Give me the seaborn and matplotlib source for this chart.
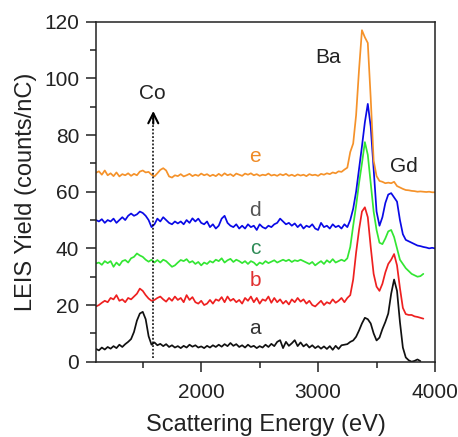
import numpy as np
import pandas as pd
import matplotlib
matplotlib.use("Agg")
import matplotlib.pyplot as plt
import seaborn as sns
from matplotlib.ticker import MultipleLocator

# ---------------- data (25 eV sampling from 1100 eV) ----------------
E_START = 1100
E_STEP = 25

series_a = [
    4.5, 4.0, 5.0, 4.3, 5.2, 4.6, 5.5, 4.8,
    6.0, 5.2, 6.2, 7.0, 8.0, 10.5, 14.5, 17.0,
    17.6, 15.0, 9.0, 6.0, 6.8, 5.8, 6.3, 5.5,
    6.2, 5.2, 5.8, 5.0, 5.5, 4.8, 5.6, 5.0,
    6.0, 5.3, 5.8, 5.0, 5.4, 4.8, 5.6, 5.0,
    5.8, 5.2, 6.0, 5.3, 6.2, 5.5, 6.6, 5.6,
    6.2, 5.2, 5.8, 5.0, 6.0, 5.2, 5.6, 4.8,
    5.5, 5.0, 6.0, 5.2, 6.3, 5.5, 7.0, 7.6,
    4.8, 7.0, 5.6, 6.5, 7.6, 5.5, 6.8, 5.4,
    6.2, 5.0, 5.8, 4.8, 5.5, 4.6, 5.4, 4.5,
    5.5, 4.2, 5.6, 4.5, 5.8, 6.0, 6.2, 7.0,
    7.5, 8.8, 11.0, 13.5, 15.5, 15.0, 13.5, 10.0,
    7.5, 8.5, 11.5, 14.0, 17.0, 24.0, 29.0, 25.0,
    14.0, 5.0, 1.5, 0.5, 0.0, 0.3, 0.8, 0.2,
]

series_b = [
    19.5, 20.0, 20.8, 21.5, 21.0, 22.5, 22.0, 23.5,
    21.5, 22.0, 21.0, 22.5, 22.0, 23.0, 24.0, 25.8,
    25.0, 23.5, 22.3, 21.5, 21.8, 22.5, 23.0, 22.0,
    21.2, 22.5, 21.5, 23.0, 21.8, 22.5, 21.0, 23.5,
    21.8, 22.8, 21.0, 20.5, 21.5, 20.0, 20.5, 21.8,
    20.5, 22.0, 21.5, 22.8, 21.0, 23.0, 21.5, 22.2,
    21.0, 21.8, 20.5, 22.5, 21.5, 23.0, 21.0, 22.5,
    20.5, 22.0, 21.5, 23.0, 20.8, 22.5, 21.0, 22.0,
    20.5, 21.5, 20.2, 22.0, 21.0, 22.5, 21.2, 22.0,
    20.5, 21.5, 20.0, 19.5, 20.5, 21.5, 20.0, 21.0,
    20.5, 22.0, 20.8, 21.5, 22.5, 21.0, 22.5, 23.5,
    29.0, 38.5, 46.5, 53.0, 54.5, 51.0, 40.5, 31.0,
    26.5, 25.0, 27.5, 31.5, 34.5, 36.0, 38.0, 34.0,
    26.0, 19.0, 16.8, 16.5, 16.5, 16.0, 15.8, 15.5,
    15.2,
]

series_c = [
    34.7, 35.0, 34.2, 35.5, 34.8, 35.5, 33.5, 35.0,
    34.0, 35.5, 35.9, 35.0, 36.5, 37.0, 38.2, 37.5,
    37.0, 36.0, 35.3, 36.0, 35.0, 35.9, 35.0, 36.0,
    35.5, 34.5, 33.5, 34.0, 35.0, 35.9, 35.5, 36.2,
    35.0, 35.5, 34.5, 35.2, 34.0, 35.0, 34.5, 35.5,
    35.0, 36.0, 35.5, 36.5, 35.0, 35.8, 36.3, 35.2,
    36.0, 35.5, 34.8, 35.5, 34.5, 35.5, 35.0, 34.0,
    35.0, 34.5, 35.5, 34.8, 35.3, 35.8, 35.0, 35.5,
    36.0, 35.5, 36.0, 35.2, 35.8, 35.5, 36.0, 35.5,
    35.0, 34.5, 35.2, 34.0, 34.8, 35.5, 34.5, 35.8,
    35.0, 36.2, 35.0, 35.5, 36.0, 35.5, 36.5, 40.5,
    48.0, 55.0, 63.0, 70.0, 77.5, 73.0, 63.0, 53.0,
    46.5, 42.0, 41.5, 43.5, 46.0, 46.5, 44.0, 40.0,
    36.0, 34.5, 33.0, 32.0, 31.0, 30.5, 30.0, 30.2,
    31.0,
]

series_d = [
    50.0, 49.5, 50.3, 49.0, 50.0, 49.5, 50.5, 49.0,
    50.0, 51.0, 50.0, 51.5, 52.3, 51.5, 52.0, 53.0,
    52.5, 51.5, 50.0, 47.5, 48.5, 50.5, 49.5, 51.0,
    50.0, 49.0, 48.5, 49.5, 48.8, 49.5, 48.5, 50.0,
    49.0, 50.6, 49.5, 50.5, 49.0, 48.5, 49.5, 47.5,
    48.5, 47.0, 48.0, 50.5, 51.5, 49.0, 48.0, 47.5,
    48.5, 47.0, 48.0, 47.0, 48.5, 47.5, 48.0, 46.5,
    48.5, 47.5, 47.0, 48.0, 47.5, 48.5, 49.0, 50.5,
    49.5, 48.5, 49.0, 48.0, 48.8, 47.5, 48.5, 47.0,
    48.0, 47.5, 48.5, 47.0, 46.5, 49.0, 47.5, 48.0,
    47.0, 48.5, 47.5, 48.0, 47.0, 48.5, 47.5, 50.0,
    54.0, 60.0, 68.0, 76.0, 84.5, 91.0, 83.0, 68.0,
    53.0, 48.0, 51.0, 56.0, 59.0, 59.5, 58.0, 56.5,
    50.0, 45.0, 43.0, 42.5, 42.0, 41.5, 41.0, 40.8,
    40.5, 40.3, 40.0, 40.2, 40.0,
]

series_e = [
    66.7, 67.2, 66.0, 67.5, 65.8, 66.5, 65.5, 66.8,
    65.4, 66.2, 65.8, 66.5, 65.6, 66.3, 65.8, 67.1,
    67.5, 66.8, 67.0, 66.0, 65.4, 66.5, 67.7, 68.3,
    67.5, 65.4, 65.0, 65.8, 65.5, 66.2, 65.4, 65.8,
    66.3, 65.5, 66.0, 65.6, 66.4, 65.8, 66.2, 65.5,
    66.0, 65.5, 66.3, 65.6, 66.5, 65.8, 66.2, 65.5,
    66.4, 66.0, 65.6, 66.4, 66.0, 66.5, 65.8, 66.2,
    65.6, 66.0, 65.8, 66.4, 65.7, 66.0, 65.6, 66.2,
    65.8, 66.3, 65.6, 66.0, 65.5, 66.1, 65.7, 66.0,
    65.5, 66.2, 65.8, 66.0, 65.6, 66.3, 66.0, 66.5,
    66.2, 66.8, 66.5, 67.2, 67.0, 67.8, 68.5, 74.0,
    77.0, 87.0, 103.0, 117.0, 114.5, 112.5, 93.0, 71.0,
    65.5, 63.8, 63.5, 63.0, 63.2, 63.0, 63.5, 62.0,
    61.5, 61.0, 60.6, 60.5, 60.3, 60.2, 60.0, 60.1,
    60.0, 59.9, 60.0, 59.8, 59.8,
]

series_names = ["a", "b", "c", "d", "e"]
series_values = [series_a, series_b, series_c, series_d, series_e]
line_colors = ["#111111", "#ee2020", "#33e633", "#0a0ae6", "#f5922a"]
label_colors = ["#333333", "#e03030", "#2e8b57", "#555555", "#ef8a25"]
label_x = [2462, 2462, 2462, 2462, 2462]
label_y = [11.8, 28.5, 40.1, 53.5, 72.4]

x_ticks = [2000, 3000, 4000]
y_ticks = [0, 20, 40, 60, 80, 100, 120]

# ---------------- build long table ----------------
frames = []
for name, vals in zip(series_names, series_values):
    energy = E_START + E_STEP * np.arange(len(vals))
    frames.append(pd.DataFrame({"energy": energy, "yield": vals, "series": name}))
df = pd.concat(frames, ignore_index=True)

# ---------------- plot ----------------
sns.set_theme(style="ticks")
plt.rcParams["font.family"] = ["Liberation Sans", "DejaVu Sans"]
text_col = "#222222"

fig = plt.figure(figsize=(4.58, 4.37), dpi=100)
ax = fig.add_axes([0.2096, 0.1723, 0.7402, 0.778])

sns.lineplot(data=df, x="energy", y="yield", hue="series",
             palette=dict(zip(series_names, line_colors)),
             hue_order=series_names, linewidth=1.25, ax=ax, legend=False,
             sort=False, estimator=None)

ax.set_xlim(1100, 4000)
ax.set_ylim(0, 120)
ax.set_xticks(x_ticks)
ax.set_yticks(y_ticks)
ax.xaxis.set_minor_locator(MultipleLocator(500))
ax.yaxis.set_minor_locator(MultipleLocator(10))
ax.tick_params(axis="both", which="major", length=7, width=1.1,
               labelsize=15, colors=text_col, direction="out")
ax.tick_params(axis="both", which="minor", length=4, width=1.1,
               colors=text_col, direction="out")
ax.tick_params(axis="x", which="major", pad=8)
ax.tick_params(axis="y", which="major", pad=5)
for sp in ax.spines.values():
    sp.set_visible(True)
    sp.set_linewidth(1.1)
    sp.set_color(text_col)

ax.set_xlabel("Scattering Energy (eV)", fontsize=17, color=text_col, labelpad=9)
ax.set_ylabel("LEIS Yield (counts/nC)", fontsize=17, color=text_col, labelpad=5)

for name, lx, ly, lc in zip(series_names, label_x, label_y, label_colors):
    ax.text(lx, ly, name, color=lc, fontsize=15, ha="center", va="center")

ax.text(3086, 107.5, "Ba", fontsize=15, color=text_col, ha="center", va="center")
ax.text(3730, 68.8, "Gd", fontsize=15, color=text_col, ha="center", va="center")
ax.text(1579, 94.7, "Co", fontsize=15, color=text_col, ha="center", va="center")

# dotted arrow marking Co
ax.plot([1590, 1590], [1.3, 87], color="black", linestyle=(0, (1.2, 1.2)), linewidth=1.1)
ax.annotate("", xy=(1590, 88.5), xytext=(1590, 84),
            arrowprops=dict(arrowstyle="->", color="black", lw=1.5,
                            mutation_scale=18, shrinkA=0, shrinkB=0))

fig.savefig("out.png", dpi=100)
